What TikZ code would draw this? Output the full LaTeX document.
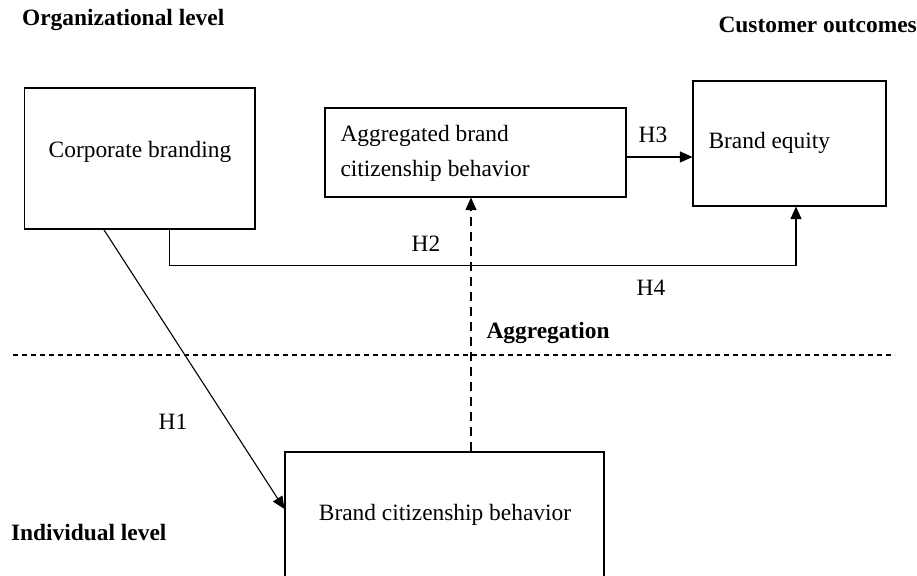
\documentclass[tikz,border=0pt]{standalone}
\usepackage{fontspec}
\setmainfont{Liberation Serif}
\usetikzlibrary{positioning,arrows.meta}

\begin{document}
\begin{tikzpicture}[x=1pt,y=-1pt,line width=1.1pt,font=\fontsize{23.4}{35}\selectfont]
            \tikzstyle{box}=[draw,rectangle,inner sep=0pt]
            \tikzstyle{lvl}=[font=\fontsize{23.4}{28}\selectfont\bfseries,inner sep=0pt]
            \tikzstyle{hyp}=[-{Triangle[length=12.5pt,width=11pt]}]
            \tikzstyle{aggr}=[hyp,dash pattern=on 9pt off 6pt]
            \tikzstyle{levelsep}=[dash pattern=on 5pt off 4pt]

            \useasboundingbox (0,0) rectangle (917,575);

            % the four constructs
            \node[box,minimum width=230.4pt,minimum height=141pt] (corp) at (139.8,158.5) {};
            \node[box,minimum width=301pt,minimum height=89pt] (agg) at (475.5,152.5) {};
            \node[box,minimum width=193pt,minimum height=125pt] (equity) at (789.5,143.5) {};
            \node[box,minimum width=319pt,minimum height=138pt] (bcb) at (444.5,521) {};

            \node (corpT) at (140,152) {Corporate branding};
            \node[anchor=west,align=left,inner sep=0pt] (aggT) at (340,153.5) {Aggregated brand\\citizenship behavior};
            \node[anchor=west,inner sep=0pt] (equityT) at (708,143) {Brand equity};
            \node (bcbT) at (445,515) {Brand citizenship behavior};

            % level headings
            \node[lvl,anchor=west] (orgLvl) at (21.6,20) {Organizational level};
            \node[lvl,anchor=west] (custLvl) at (718,25) {Customer outcomes};
            \node[lvl,anchor=west] (indLvl) at (10.5,533) {Individual level};
            \node[lvl,anchor=west] (aggLvl) at (486,333) {Aggregation};

            % hypotheses
            \node (h1) at (173,422) {H1};
            \node (h2) at (426,244) {H2};
            \node (h3) at (653,135) {H3};
            \node (h4) at (651,288) {H4};

            \draw[hyp] ([xshift=-36pt]corp.south) -- ([yshift=12pt]bcb.west);
            \draw[hyp] ([xshift=30pt]corp.south) -- ++(0,36) -| ([xshift=6.5pt]equity.south);
            \draw[hyp] ([yshift=-4.5pt]agg.east) -- ([yshift=-4.5pt]agg.east -| equity.west);
            \draw[aggr] ([xshift=26.5pt]bcb.north) -- ([xshift=26.5pt]bcb.north |- agg.south);

            % boundary between the levels
            \coordinate (sepL) at (13,355);
            \coordinate (sepR) at (895,355);
            \draw[levelsep] (sepL) -- (sepR);
\end{tikzpicture}
\end{document}
